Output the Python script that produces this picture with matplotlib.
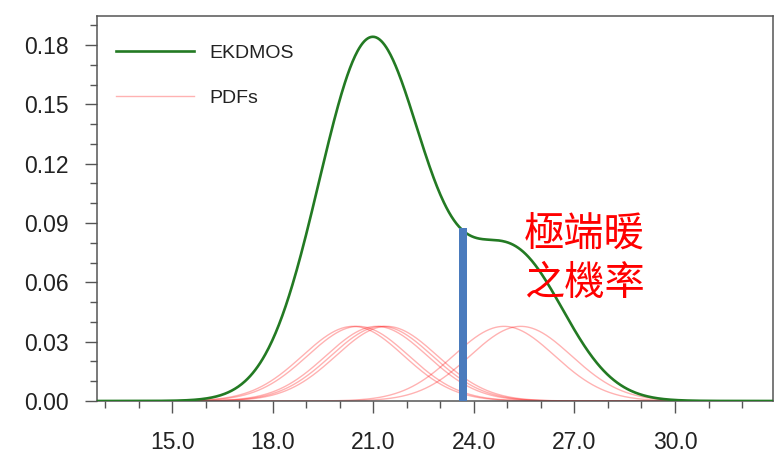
import numpy as np
import matplotlib
matplotlib.use('Agg')
import matplotlib.pyplot as plt
from matplotlib.ticker import MultipleLocator, FormatStrFormatter

# Medias de los miembros del ensamble
member_means = [20.4, 20.55, 21.1, 21.25, 21.4, 24.9, 25.4]
kernel_sigma = 1.51
threshold = 23.69        # umbral de calor extremo
threshold_height = 0.0875

legend_labels = ['EKDMOS', 'PDFs']
note_lines = ['極端暖', '之機率']

x_ticks = [15.0, 18.0, 21.0, 24.0, 27.0, 30.0]
y_ticks = [0.00, 0.03, 0.06, 0.09, 0.12, 0.15, 0.18]

# Curvas gaussianas de cada miembro (peso 1/N) y su suma
x = np.linspace(12.76, 32.92, 800)
n = len(member_means)
pdfs = [np.exp(-0.5 * ((x - m) / kernel_sigma) ** 2) / (n * kernel_sigma * np.sqrt(2 * np.pi))
        for m in member_means]
ekdmos = np.sum(pdfs, axis=0)

plt.rcParams['font.family'] = ['Liberation Sans', 'DejaVu Sans']

fig = plt.figure(figsize=(7.76, 4.59), dpi=100)
ax = fig.add_axes([0.125, 0.1264, 0.871, 0.8387])

for i, p in enumerate(pdfs):
    ax.plot(x, p, color='red', alpha=0.3, lw=1.0,
            label=legend_labels[1] if i == 0 else None, zorder=2)
ax.plot(x, ekdmos, color='#237a23', lw=1.9, label=legend_labels[0], zorder=3)

ax.bar([threshold], [threshold_height], width=0.24, color='#4a7bbd', zorder=4)

ax.text(27.29, 0.0845, note_lines[0], color='red', fontsize=29,
        family=['Noto Sans CJK TC'], ha='center', va='center', zorder=5)
ax.text(27.29, 0.0594, note_lines[1], color='red', fontsize=29,
        family=['Noto Sans CJK TC'], ha='center', va='center', zorder=5)

ax.set_xlim(12.76, 32.92)
ax.set_ylim(0, 0.1947)
ax.set_xticks(x_ticks)
ax.set_yticks(y_ticks)
ax.xaxis.set_minor_locator(MultipleLocator(1.0))
ax.yaxis.set_minor_locator(MultipleLocator(0.01))
ax.xaxis.set_major_formatter(FormatStrFormatter('%.1f'))
ax.yaxis.set_major_formatter(FormatStrFormatter('%.2f'))

for s in ax.spines.values():
    s.set_color('#555555')
    s.set_linewidth(1.1)
ax.tick_params(which='major', direction='out', length=8.6, width=1.0,
               color='#555555', labelsize=16.5, labelcolor='#222222', pad=13)
ax.tick_params(which='minor', direction='out', length=4.7, width=1.0, color='#555555')
ax.tick_params(axis='y', pad=12)

handles, labels = ax.get_legend_handles_labels()
order = [labels.index(l) for l in legend_labels]
leg = ax.legend([handles[i] for i in order], [labels[i] for i in order],
                loc='upper left', bbox_to_anchor=(0.028, 0.927),
                frameon=False, fontsize=14, handlelength=4.0,
                handletextpad=0.82, labelspacing=1.4,
                borderpad=0, borderaxespad=0)
for t in leg.get_texts():
    t.set_color('#222222')

fig.savefig('out.png', dpi=100)
